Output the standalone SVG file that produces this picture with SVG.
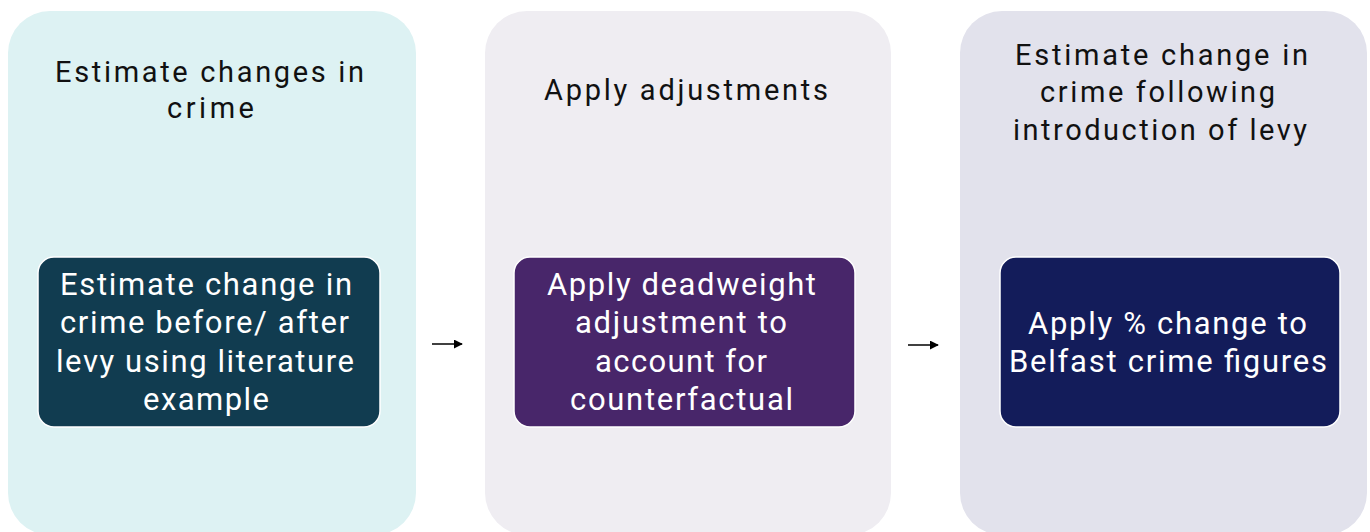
<svg xmlns="http://www.w3.org/2000/svg" width="1370" height="532" viewBox="0 0 1370 532">
<defs>
<style>
.t{font-family:Roboto,"Liberation Sans",sans-serif;font-size:29px;text-anchor:middle;fill:#111111}
.w{font-family:Roboto,"Liberation Sans",sans-serif;font-size:31px;text-anchor:middle;fill:#ffffff}
.in{stroke:#ffffff;stroke-width:1.5}
.con{stroke:#000000;stroke-width:1.5;fill:none;marker-end:url(#ah)}
</style>
<marker id="ah" viewBox="0 0 10 10" refX="9" refY="5" markerWidth="6" markerHeight="6" orient="auto" markerUnits="strokeWidth">
<path d="M0,0 L10,5 L0,10 z" fill="#000000"/>
</marker>
</defs>
<rect width="1370" height="532" fill="#ffffff"/>
<g id="stage1">
<rect x="8" y="11" width="408" height="524" rx="42" fill="#DDF2F3"/>
<text class="t" x="209.5" y="82" textLength="309">Estimate changes in</text>
<text class="t" x="210.5" y="118" textLength="87">crime</text>
</g>
<g id="stage2">
<rect x="485" y="11" width="406" height="524" rx="42" fill="#EFEDF2"/>
<text class="t" x="686" y="100" textLength="284">Apply adjustments</text>
</g>
<g id="stage3">
<rect x="960" y="11" width="407" height="524" rx="42" fill="#E2E2EC"/>
<text class="t" x="1161.5" y="65" textLength="293">Estimate change in</text>
<text class="t" x="1157.5" y="102" textLength="235">crime following</text>
<text class="t" x="1160" y="140" textLength="294">introduction of levy</text>
</g>
<g id="box1">
<rect class="in" x="38" y="257" width="342" height="170" rx="16" fill="#113C50"/>
<text class="w" x="206" y="295" textLength="292">Estimate change in</text>
<text class="w" x="204.5" y="333" textLength="289">crime before/ after</text>
<text class="w" x="205" y="372" textLength="298">levy using literature</text>
<text class="w" x="206" y="410" textLength="126">example</text>
</g>
<g id="box2">
<rect class="in" x="514" y="257" width="341" height="170" rx="16" fill="#48266A"/>
<text class="w" x="681.5" y="295" textLength="269">Apply deadweight</text>
<text class="w" x="681" y="333" textLength="212">adjustment to</text>
<text class="w" x="681" y="372" textLength="172">account for</text>
<text class="w" x="681.5" y="410" textLength="223">counterfactual</text>
</g>
<g id="box3">
<rect class="in" x="1000" y="257" width="340" height="170" rx="16" fill="#131C5A"/>
<text class="w" x="1167.5" y="334" textLength="279">Apply % change to</text>
<text class="w" x="1168" y="372" textLength="318">Belfast crime figures</text>
</g>
<g id="connectors">
<path class="con" d="M432,344 L462,344"/>
<path class="con" d="M908,345 L938,345"/>
</g>
</svg>
